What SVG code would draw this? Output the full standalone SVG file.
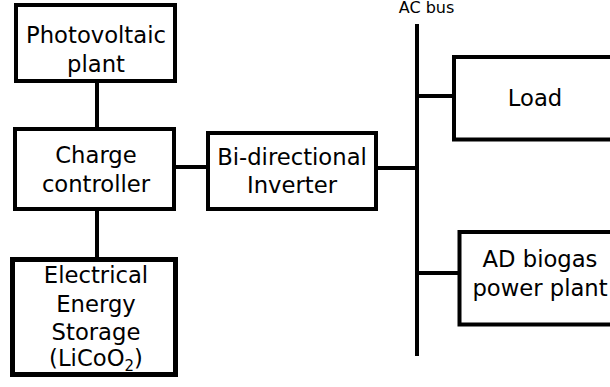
<svg xmlns="http://www.w3.org/2000/svg" width="610" height="387" viewBox="0 0 610 387">
<style>
.box{fill:#fff;stroke:#000;stroke-width:4}
.thick{stroke-width:5}
.ln{stroke:#000;stroke-width:4;fill:none}
text{font-family:"DejaVu Sans",sans-serif;font-size:22.7px;fill:#000;text-anchor:middle}
.small{font-size:16px}
</style>
<rect width="610" height="387" fill="#fff"/>
<g id="connectors">
<line class="ln" x1="97" y1="81" x2="97" y2="129"/>
<line class="ln" x1="97" y1="209" x2="97" y2="259"/>
<line class="ln" x1="174" y1="167" x2="208" y2="167"/>
<line class="ln" x1="376" y1="168" x2="417" y2="168"/>
<line class="ln" x1="417" y1="24" x2="417" y2="356"/>
<line class="ln" x1="417" y1="96" x2="454" y2="96"/>
<line class="ln" x1="417" y1="273" x2="459" y2="273"/>
</g>
<g id="acbus"><text class="small" x="426.5" y="12.5">AC bus</text></g>
<g id="pv">
<rect class="box" x="16" y="5" width="159" height="76"/>
<text x="96" y="43">Photovoltaic</text>
<text x="96" y="72">plant</text>
</g>
<g id="cc">
<rect class="box" x="15" y="129" width="159" height="80"/>
<text x="96" y="163">Charge</text>
<text x="96" y="192">controller</text>
</g>
<g id="ees">
<rect class="box thick" x="12.5" y="259.5" width="163" height="115"/>
<text x="96" y="283">Electrical</text>
<text x="96" y="312">Energy</text>
<text x="96" y="340">Storage</text>
<text x="96" y="366">(LiCoO<tspan font-size="15" dy="5">2</tspan><tspan dy="-5">)</tspan></text>
</g>
<g id="inverter">
<rect class="box" x="208" y="133" width="168" height="76"/>
<text x="292" y="165">Bi-directional</text>
<text x="292" y="193">Inverter</text>
</g>
<g id="load">
<rect class="box" x="454" y="57" width="180" height="82.5"/>
<text x="535" y="106">Load</text>
</g>
<g id="ad">
<rect class="box" x="459.5" y="232" width="180" height="92.5"/>
<text x="540" y="267">AD biogas</text>
<text x="540" y="296">power plant</text>
</g>
</svg>
